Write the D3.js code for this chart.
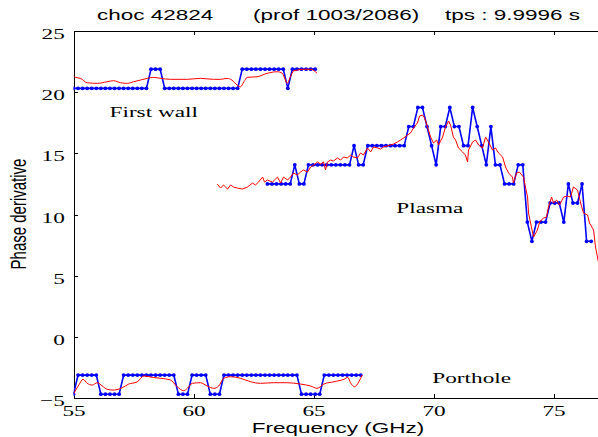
<!DOCTYPE html>
<html>
<head>
<meta charset="utf-8">
<title>choc 42824 - phase derivative</title>
<script src="https://cdn.jsdelivr.net/npm/d3@7"></script>
<style>
  body { margin: 0; background: #fff; }
  .serif { font-family: "Liberation Serif", "Times New Roman", serif; font-size: 15.5px; }
  .sans { font-family: "Liberation Sans", Arial, sans-serif; font-size: 15px; }
</style>
</head>
<body>
<div id="chart"></div>
<script>
// axis ticks
var xTicks = [55, 60, 65, 70, 75];
var yTicks = [-5, 0, 5, 10, 15, 20, 25];

// blue (quantised) curves : regular frequency grid, start + step
var wallStart = 55, portStart = 55, plasmaStart = 63.08, fStep = 0.19;

var wallBlue = [20.31,20.31,20.31,20.31,20.31,20.31,20.31,20.31,20.31,20.31,20.31,20.31,20.31,20.31,20.31,20.31,20.31,
  21.88,21.88,21.88,
  20.31,20.31,20.31,20.31,20.31,20.31,20.31,20.31,20.31,20.31,20.31,20.31,20.31,20.31,20.31,20.31,20.31,
  21.88,21.88,21.88,21.88,21.88,21.88,21.88,21.88,21.88,21.88,
  20.31,
  21.88,21.88,21.88,21.88,21.88,21.88];

var portBlue = [-4.69,
  -3.13,-3.13,-3.13,-3.13,-3.13,
  -4.69,-4.69,-4.69,-4.69,-4.69,
  -3.13,-3.13,-3.13,-3.13,-3.13,-3.13,-3.13,-3.13,-3.13,-3.13,-3.13,-3.13,
  -4.69,-4.69,-4.69,
  -3.13,-3.13,-3.13,-3.13,
  -4.69,-4.69,-4.69,
  -3.13,-3.13,-3.13,-3.13,-3.13,-3.13,-3.13,-3.13,-3.13,-3.13,-3.13,-3.13,-3.13,-3.13,-3.13,-3.13,-3.13,
  -4.69,-4.69,-4.69,-4.69,-4.69,
  -3.13,-3.13,-3.13,-3.13,-3.13,-3.13,-3.13,-3.13,-3.13];

var plasmaBlue = [12.5,12.5,12.5,12.5,12.5,12.5,14.06,12.5,12.5,
  14.06,14.06,14.06,14.06,14.06,14.06,14.06,14.06,14.06,14.06,
  15.63,14.06,14.06,
  15.63,15.63,15.63,15.63,15.63,15.63,15.63,15.63,15.63,
  17.19,17.19,18.75,18.75,17.19,15.63,14.06,17.19,17.19,18.75,17.19,17.19,15.63,15.63,
  18.75,17.19,15.63,14.06,17.19,14.06,14.06,12.5,12.5,12.5,14.06,14.06,
  9.38,7.81,9.38,9.38,9.38,10.94,10.94,10.94,9.38,12.5,10.94,10.94,12.5,7.81,7.81];

// red (measured) curves
var wallRedF = [55.0,55.08,55.29,55.57,55.99,56.4,56.67,56.96,57.24,57.5,57.79,58.07,58.33,58.63,59.04,59.74,60.29,60.83,
  61.13,61.4,61.6,61.82,61.96,62.1,62.24,62.65,63.07,63.49,63.7,63.83,63.9,64.04,64.18,64.6,64.88,65.15];
var wallRedV = [21.33,21.21,21.13,20.77,20.72,20.85,20.94,20.77,20.72,20.85,20.99,21.13,21.21,21.13,21.05,21.05,21.13,21.05,
  21.05,21.13,20.99,20.58,20.44,20.85,21.21,21.26,21.54,21.67,21.54,20.99,20.72,21.26,21.75,21.87,21.87,21.54];

var portRedF = [55.02,55.22,55.4,55.57,55.78,55.99,56.2,56.4,56.68,57.03,57.3,57.65,57.93,58.28,58.63,59.04,59.32,59.6,59.74,
  59.95,60.29,60.57,60.85,61.05,61.26,61.54,61.96,62.38,62.79,63.35,63.9,64.46,64.88,65.15,65.43,65.85,66.27,66.43,66.54,
  66.71,66.89,67.03];
var portRedV = [-4.62,-3.94,-3.47,-3.8,-3.94,-3.75,-4.02,-4.29,-4.35,-4.16,-3.86,-3.69,-3.2,-3.31,-3.39,-3.53,-4.08,-4.41,-4.21,
  -3.8,-3.75,-4.02,-4.21,-4.02,-3.39,-3.26,-3.39,-3.67,-3.8,-3.75,-3.75,-3.86,-4.02,-4.21,-3.86,-3.67,-3.47,-3.31,-3.75,
  -4.08,-3.67,-3.12];

var plasmaRedF = [60.99,61.13,61.25,61.42,61.54,61.67,61.83,62.04,62.25,62.46,
  62.58,62.71,62.88,62.96,63.08,63.29,63.5,63.63,63.75,63.92,
  64.04,64.17,64.33,64.46,64.58,64.75,64.88,65.0,65.17,65.29,
  65.42,65.5,65.58,65.71,65.83,66.0,66.13,66.25,66.42,66.54,
  66.67,66.83,66.96,67.08,67.25,67.38,67.5,67.67,67.79,67.92,
  68.08,68.21,68.33,68.5,68.63,68.75,68.92,69.04,69.17,69.33,
  69.42,69.54,69.63,69.75,69.88,70.0,70.13,70.21,70.38,70.5,
  70.63,70.71,70.83,70.92,71.04,71.21,71.33,71.42,71.46,71.63,
  71.75,71.88,72.04,72.17,72.29,72.46,72.58,72.71,72.88,73.0,
  73.13,73.29,73.33,73.46,73.58,73.75,73.83,73.92,73.96,74.08,
  74.17,74.33,74.42,74.58,74.71,74.79,74.92,75.0,75.13,75.25,
  75.42,75.58,75.71,75.83,76.0,76.13,76.25,76.42,76.5,76.67,
  76.75,76.88];
var plasmaRedV = [12.49,12.16,12.41,12.08,12.41,12.25,12.16,12.08,12.25,12.57,
  12.41,12.65,13.06,12.65,12.82,12.65,13.06,12.57,13.06,12.82,
  13.06,13.39,13.23,13.47,13.64,13.47,13.88,14.04,14.29,14.12,
  14.29,13.64,14.29,14.45,14.37,14.62,14.45,14.7,14.62,14.86,
  14.7,14.62,15.03,14.86,15.44,15.11,15.52,15.44,15.35,15.52,
  15.6,15.68,15.76,15.93,16.09,16.25,16.5,16.66,17.07,17.48,
  18.05,18.13,17.89,17.15,16.33,15.84,16.09,15.68,16.33,17.15,
  17.64,17.31,16.33,16.09,15.44,15.11,14.86,14.29,15.27,15.93,
  16.09,15.68,15.44,16.33,15.93,15.27,15.44,15.03,14.7,13.88,
  13.39,13.06,12.57,13.39,13.47,13.06,12.25,11.43,10.12,8.97,
  8.16,8.73,9.38,9.71,9.79,10.61,11.43,10.94,11.18,10.77,
  11.43,11.51,11.43,12.25,12.0,10.94,10.12,9.96,9.3,8.73,
  7.34,6.03];

// text labels
var title = ["choc 42824", "(prof 1003/2086)", "tps : 9.9996 s"];
var regionLabels = [
  {text: "First wall", f: 56.5, v: 17.95},
  {text: "Plasma", f: 68.45, v: 10.15},
  {text: "Porthole", f: 69.95, v: -3.75}
];

var W = 598, H = 437;
var svg = d3.select("#chart").append("svg").attr("width", W).attr("height", H);

var x = d3.scaleLinear().domain([55, 77]).range([73.5, 601.5]);
var y = d3.scaleLinear().domain([-5, 25]).range([398, 31]);

svg.append("clipPath").attr("id", "plotArea")
  .append("rect").attr("x", 73.5).attr("y", 31).attr("width", 530).attr("height", 367);

// axes, ticks pointing inwards like matlab
var bottom = svg.append("g").attr("transform", "translate(0,398)")
  .call(d3.axisBottom(x).tickValues(xTicks).tickSizeInner(-4).tickSizeOuter(0));
bottom.selectAll("text").attr("class", "serif").attr("y", 18).attr("dy", 0)
  .attr("transform", "scale(1.5,1)").attr("fill", "#000");

svg.append("g").attr("transform", "translate(0,31)")
  .call(d3.axisTop(x).tickValues(xTicks).tickSizeInner(-4).tickSizeOuter(0).tickFormat(""));

var left = svg.append("g").attr("transform", "translate(73.5,0)")
  .call(d3.axisLeft(y).tickValues(yTicks).tickSizeInner(-4).tickSizeOuter(0)
    .tickFormat(function(d) { return d < 0 ? "\u2212" + (-d) : d; }));
left.selectAll("text").attr("class", "serif").attr("x", -5.8).attr("dy", 0).attr("y", 7.5)
  .attr("transform", "scale(1.5,1)").attr("fill", "#000");

svg.selectAll(".domain, .tick line").attr("stroke", "#000").attr("stroke-width", 1)
  .attr("shape-rendering", "crispEdges");

// curves
var plot = svg.append("g").attr("clip-path", "url(#plotArea)");

function gridSeries(start, vals) {
  return vals.map(function(v, i) { return [start + i * fStep, v]; });
}
function pairSeries(fs, vs) {
  return fs.map(function(f, i) { return [f, vs[i]]; });
}

var line = d3.line().x(function(d) { return x(d[0]); }).y(function(d) { return y(d[1]); });
var smooth = d3.line().curve(d3.curveMonotoneX)
  .x(function(d) { return x(d[0]); }).y(function(d) { return y(d[1]); });

var blueSets = [gridSeries(wallStart, wallBlue), gridSeries(portStart, portBlue), gridSeries(plasmaStart, plasmaBlue)];
blueSets.forEach(function(s) {
  plot.append("path").datum(s).attr("d", line)
    .attr("fill", "none").attr("stroke", "#0000ff").attr("stroke-width", 1.6);
  plot.selectAll(null).data(s).enter().append("circle")
    .attr("cx", function(d) { return x(d[0]); })
    .attr("cy", function(d) { return y(d[1]); })
    .attr("r", 1.9).attr("fill", "#0000ff");
});

plot.append("path").datum(pairSeries(wallRedF, wallRedV)).attr("d", smooth)
  .attr("fill", "none").attr("stroke", "#ff0000").attr("stroke-width", 1);
plot.append("path").datum(pairSeries(portRedF, portRedV)).attr("d", smooth)
  .attr("fill", "none").attr("stroke", "#ff0000").attr("stroke-width", 1);
plot.append("path").datum(pairSeries(plasmaRedF, plasmaRedV)).attr("d", line)
  .attr("fill", "none").attr("stroke", "#ff0000").attr("stroke-width", 1);

// region names
regionLabels.forEach(function(l) {
  svg.append("text").attr("class", "serif")
    .attr("transform", "translate(" + x(l.f) + "," + y(l.v) + ") scale(1.5,1)")
    .text(l.text);
});

// title, x label, y label
var titleX = [97, 253, 445];
title.forEach(function(t, i) {
  svg.append("text").attr("class", "sans")
    .attr("transform", "translate(" + titleX[i] + ",20) scale(1.5,1)")
    .text(t);
});

svg.append("text").attr("class", "sans").attr("text-anchor", "middle")
  .style("font-size", "14.5px")
  .attr("transform", "translate(338,433) scale(1.55,1)")
  .text("Frequency (GHz)");

svg.append("text").attr("class", "sans").attr("text-anchor", "middle")
  .attr("transform", "translate(26,214) rotate(-90) scale(1,1.5)")
  .text("Phase derivative");
</script>
</body>
</html>
